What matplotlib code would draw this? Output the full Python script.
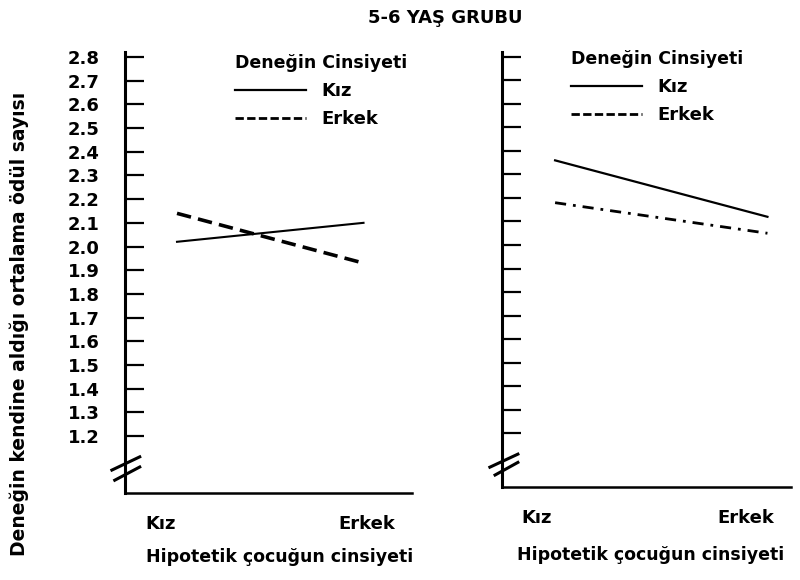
import numpy as np
import matplotlib
matplotlib.use('Agg')
import matplotlib.pyplot as plt
from matplotlib.lines import Line2D

plt.rcParams['font.family'] = ['DejaVu Sans']
plt.rcParams['font.weight'] = 'bold'

# data
cinsiyet = ['Kız', 'Erkek']
xpos = [0, 1]
yticks = np.round(np.arange(1.2, 2.81, 0.1), 1)

sol_kiz = [2.02, 2.10]
sol_erkek = [2.14, 1.93]
sag_kiz = [2.36, 2.12]
sag_erkek = [2.18, 2.05]

fig = plt.figure(figsize=(8, 5.8), dpi=100)
ax1 = fig.add_axes([0.156, 0.150, 0.359, 0.760])
ax2 = fig.add_axes([0.6275, 0.160, 0.361, 0.750])

ax1.plot(xpos, sol_kiz, color='black', lw=1.5)
ax1.plot(xpos, sol_erkek, color='black', lw=2.6, linestyle=(0, (4, 2)))
ax2.plot(xpos, sag_kiz, color='black', lw=1.6)
ax2.plot(xpos, sag_erkek, color='black', lw=2.0, linestyle=(0, (4, 2.5, 1, 2.5)))

ax1.set_xlim(-0.28, 1.26)
ax2.set_xlim(-0.25, 1.11)
ax1.set_ylim(0.96, 2.82)
ax2.set_ylim(0.97, 2.82)

ax1.set_xticks([-0.09, 1.02])
ax2.set_xticks([-0.086, 0.90])

for ax in (ax1, ax2):
    ax.set_xticklabels(cinsiyet)
    ax.set_yticks(yticks)
    ax.set_yticklabels(['%.1f' % v for v in yticks])
    ax.spines['top'].set_visible(False)
    ax.spines['right'].set_visible(False)
    ax.spines['left'].set_linewidth(2.2)
    ax.spines['bottom'].set_linewidth(1.8)
    ax.tick_params(axis='y', direction='in', length=14, width=1.6, pad=18, labelsize=13)
    ax.tick_params(axis='x', length=0, pad=16, labelsize=13)
    ax.set_xlabel('Hipotetik çocuğun cinsiyeti', fontsize=12.5, fontweight='bold', labelpad=13)

    handles = [Line2D([], [], color='black', lw=1.6),
               Line2D([], [], color='black', lw=2.0, linestyle=(0, (3, 1.2)))]
    leg = ax.legend(handles, cinsiyet, title='Deneğin Cinsiyeti', frameon=False,
                    fontsize=13, title_fontproperties={'weight': 'bold', 'size': 12.5},
                    handlelength=3.9, handletextpad=0.85, labelspacing=0.55,
                    borderpad=0, borderaxespad=0, loc='upper left', alignment='left',
                    bbox_to_anchor=(0.385, 0.995) if ax is ax1 else (0.24, 1.005))

ax2.tick_params(axis='y', labelleft=False)
ax1.xaxis.set_label_coords(0.54, -0.125)
ax2.xaxis.set_label_coords(0.516, -0.135)

# axis break marks
for x0, x1, y0, y1 in [(-0.045, 0.052, 0.052, 0.082), (-0.035, 0.052, 0.029, 0.059)]:
    ax1.plot([x0, x1], [y0, y1], color='black', lw=2.2, transform=ax1.transAxes, clip_on=False)
for x0, x1, y0, y1 in [(-0.042, 0.055, 0.046, 0.076), (-0.024, 0.055, 0.028, 0.057)]:
    ax2.plot([x0, x1], [y0, y1], color='black', lw=2.2, transform=ax2.transAxes, clip_on=False)

fig.text(0.556, 0.969, '5-6 YAŞ GRUBU', ha='center', va='center', fontsize=13, fontweight='bold')
fig.text(0.024, 0.441, 'Deneğin kendine aldığı ortalama ödül sayısı', rotation=90,
         ha='center', va='center', fontsize=13.5, fontweight='bold')

fig.savefig('out.png', dpi=100)
